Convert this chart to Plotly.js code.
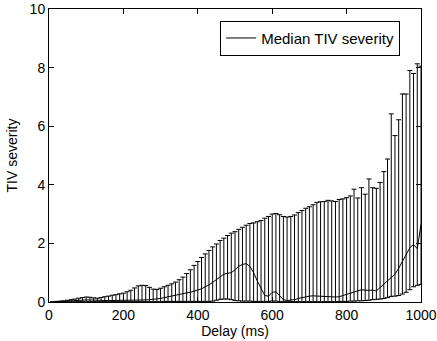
<!DOCTYPE html>
<html><head><meta charset="utf-8">
<script src="https://cdn.plot.ly/plotly-3.0.1.min.js"></script>
<style>html,body{margin:0;padding:0;background:#fff}</style>
</head><body><div id="chart" style="width:437px;height:341px"></div>
<script>
const delay = [10,20,30,40,50,60,70,80,90,100,110,120,130,140,150,160,170,180,190,200,
210,220,230,240,250,260,270,280,290,300,310,320,330,340,350,360,370,380,390,400,
410,420,430,440,450,460,470,480,490,500,510,520,530,540,550,560,570,580,590,600,
610,620,630,640,650,660,670,680,690,700,710,720,730,740,750,760,770,780,790,800,
810,820,830,840,850,860,870,880,890,900,910,920,930,940,950,960,970,980,990,1000];
const medianSeverity = [0.00,0.01,0.01,0.02,0.02,0.03,0.04,0.05,0.06,0.07,
0.07,0.06,0.05,0.05,0.05,0.05,0.05,0.05,0.05,0.05,
0.05,0.06,0.06,0.07,0.07,0.07,0.08,0.09,0.10,0.12,
0.15,0.18,0.20,0.22,0.25,0.28,0.31,0.33,0.37,0.40,
0.45,0.52,0.58,0.67,0.76,0.86,0.95,0.98,1.00,1.10,
1.22,1.28,1.31,1.22,1.00,0.72,0.45,0.22,0.20,0.33,
0.35,0.22,0.08,0.05,0.06,0.08,0.12,0.15,0.18,0.20,
0.21,0.20,0.19,0.19,0.18,0.18,0.17,0.18,0.22,0.28,
0.32,0.35,0.38,0.42,0.40,0.41,0.40,0.38,0.50,0.62,
0.72,0.85,0.95,1.15,1.40,1.62,1.85,1.96,1.82,2.65];
const upperSeverity = [0.01,0.02,0.03,0.04,0.06,0.08,0.10,0.13,0.15,0.17,
0.16,0.14,0.13,0.15,0.18,0.20,0.23,0.25,0.28,0.30,
0.35,0.40,0.48,0.55,0.57,0.56,0.50,0.44,0.43,0.47,
0.52,0.57,0.62,0.68,0.76,0.85,0.97,1.10,1.25,1.38,
1.52,1.64,1.76,1.88,1.98,2.10,2.18,2.27,2.35,2.40,
2.48,2.55,2.62,2.68,2.70,2.74,2.78,2.86,2.92,3.00,
3.02,2.98,2.92,2.90,2.92,2.97,3.05,3.12,3.20,3.25,
3.32,3.40,3.42,3.43,3.47,3.45,3.43,3.50,3.52,3.56,
3.62,3.85,3.55,3.90,3.68,4.20,3.90,3.88,4.08,4.45,
4.88,6.42,5.68,6.22,7.10,7.10,7.90,7.80,8.13,8.05];
const lowerSeverity = [0.00,0.00,0.00,0.00,0.00,0.00,0.01,0.01,0.01,0.01,
0.01,0.01,0.01,0.01,0.01,0.01,0.01,0.01,0.01,0.01,
0.01,0.01,0.01,0.01,0.01,0.01,0.01,0.01,0.01,0.01,
0.02,0.02,0.02,0.02,0.02,0.02,0.02,0.02,0.02,0.02,
0.02,0.02,0.02,0.03,0.06,0.09,0.10,0.10,0.08,0.05,
0.04,0.03,0.03,0.03,0.02,0.02,0.02,0.02,0.02,0.03,
0.03,0.01,0.01,0.01,0.01,0.01,0.01,0.01,0.01,0.01,
0.01,0.01,0.01,0.01,0.01,0.01,0.01,0.02,0.02,0.02,
0.03,0.03,0.04,0.04,0.05,0.06,0.08,0.09,0.10,0.12,
0.15,0.19,0.20,0.22,0.27,0.33,0.42,0.52,0.57,0.60];
const xTicks = [0,200,400,600,800,1000];
const yTicks = [0,2,4,6,8,10];

const plus = upperSeverity.map((u,i)=>u-medianSeverity[i]);
const minus = medianSeverity.map((m,i)=>m-lowerSeverity[i]);

const fam = '"Liberation Sans", Arial, Helvetica, sans-serif';
const font = {family:fam, size:14, color:'#000'};
const trace = {
  x: delay, y: medianSeverity, type:'scatter', mode:'lines',
  name:'Median TIV severity',
  line:{color:'#000', width:1},
  error_y:{type:'data', symmetric:false, array:plus, arrayminus:minus,
    color:'#000', thickness:1, width:2.5}
};
const axisBase = {showgrid:false, zeroline:false, showline:true, linecolor:'#000', linewidth:1,
  mirror:'ticks', ticks:'inside', ticklen:5, tickcolor:'#000', tickfont:font};
const layout = {
  width:437, height:341,
  margin:{l:49, r:16, t:9, b:39},
  paper_bgcolor:'#fff', plot_bgcolor:'#fff',
  font: font,
  showlegend:true,
  legend:{x:0.944, y:0.96, xanchor:'right', yanchor:'top', bordercolor:'#000', borderwidth:1,
    bgcolor:'#fff', itemwidth:30, font:{family:fam, size:15, color:'#000'}},
  xaxis:Object.assign({}, axisBase, {range:[0,1000], tickvals:xTicks, ticktext:xTicks.map(String),
    title:{text:'Delay (ms)', font:{family:fam, size:14, color:'#000'}, standoff:1}}),
  yaxis:Object.assign({}, axisBase, {range:[0,10], tickvals:yTicks, ticktext:yTicks.map(String),
    title:{text:'TIV severity', font:{family:fam, size:14, color:'#000'}, standoff:8}})
};
Plotly.newPlot('chart',[trace],layout,{displayModeBar:false, staticPlot:true});
</script></body></html>
